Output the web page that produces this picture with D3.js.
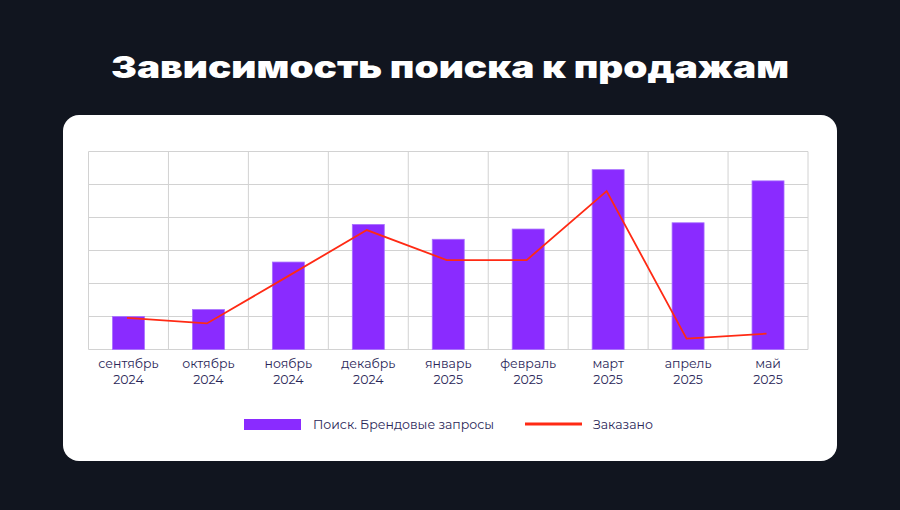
<!DOCTYPE html>
<html><head><meta charset="utf-8">
<script src="https://cdn.jsdelivr.net/npm/d3@7"></script>
<style>
html,body{margin:0;padding:0;background:#11151f;}
svg{display:block;}
</style></head>
<body>
<svg id="c" width="900" height="510"></svg>
<script>
const months = ["сентябрь","октябрь","ноябрь","декабрь","январь","февраль","март","апрель","май"];
const years = ["2024","2024","2024","2024","2025","2025","2025","2025","2025"];
const searchValues = [1.0, 1.21, 2.65, 3.79, 3.34, 3.65, 5.45, 3.84, 5.11];
const orderValues = [0.96, 0.79, 2.2, 3.62, 2.71, 2.71, 4.80, 0.33, 0.48];
const yTicks = [0,1,2,3,4,5,6];
const seriesNames = ["Поиск. Брендовые запросы","Заказано"];
const titleText = "Зависимость поиска к продажам";

const svg = d3.select("#c");
svg.append("rect").attr("width",900).attr("height",510).attr("fill","#11151f");
svg.append("rect").attr("x",63).attr("y",115).attr("width",774).attr("height",346).attr("rx",16).attr("fill","#ffffff");

svg.append("text").attr("x",450).attr("y",78).attr("text-anchor","middle")
  .attr("fill","#ffffff").attr("font-family","Inter, 'DejaVu Sans', sans-serif")
  .attr("font-weight",900).attr("font-size",30)
  .attr("textLength",678).attr("lengthAdjust","spacingAndGlyphs")
  .text(titleText);

const L=88.5, R=808, T=151.5, B=349.5;
const x = d3.scaleBand().domain(d3.range(months.length)).range([L,R]).paddingInner(0).paddingOuter(0);
const y = d3.scaleLinear().domain([0,6]).range([B,T]);

const g = svg.append("g");
g.selectAll(".hg").data(yTicks).enter().append("line")
  .attr("x1",L).attr("x2",R).attr("y1",d=>y(d)).attr("y2",d=>y(d))
  .attr("stroke","#d2d2d2").attr("stroke-width",1);
const vx = d3.range(months.length+1).map(i=> i<months.length ? x(i) : R);
g.selectAll(".vg").data(vx).enter().append("line")
  .attr("x1",d=>d).attr("x2",d=>d).attr("y1",T).attr("y2",B)
  .attr("stroke","#d2d2d2").attr("stroke-width",1);

const bw = x.bandwidth()*0.4;
g.selectAll(".bar").data(searchValues).enter().append("rect")
  .attr("x",(d,i)=>x(i)+x.bandwidth()/2-bw/2)
  .attr("y",d=>y(d)).attr("width",bw).attr("height",d=>B-y(d))
  .attr("fill","#8a2bff").attr("stroke","#a870ff").attr("stroke-width",0.8);

const line = d3.line().x((d,i)=>x(i)+x.bandwidth()/2-1.5).y(d=>y(d));
g.append("path").datum(orderValues).attr("d",line).attr("fill","none")
  .attr("stroke","#ff2a14").attr("stroke-width",1.8).attr("stroke-linejoin","miter");

const lab = g.selectAll(".lab").data(months).enter().append("text")
  .attr("text-anchor","middle").attr("fill","#2a2658")
  .attr("font-family","Montserrat, 'Noto Sans', sans-serif").attr("font-size",12.5);
lab.append("tspan").attr("x",(d,i)=>x(i)+x.bandwidth()/2).attr("y",368).text(d=>d);
lab.append("tspan").attr("x",(d,i)=>x(i)+x.bandwidth()/2).attr("y",384).text((d,i)=>years[i]);

svg.append("rect").attr("x",244).attr("y",419).attr("width",57).attr("height",11).attr("fill","#8a2bff");
svg.append("text").attr("x",313).attr("y",429).attr("fill","#2a2658")
  .attr("font-family","Montserrat, 'Noto Sans', sans-serif").attr("font-size",12.5).text(seriesNames[0]);
svg.append("line").attr("x1",525).attr("x2",582).attr("y1",424).attr("y2",424)
  .attr("stroke","#ff2a14").attr("stroke-width",3);
svg.append("text").attr("x",593).attr("y",429).attr("fill","#2a2658")
  .attr("font-family","Montserrat, 'Noto Sans', sans-serif").attr("font-size",12.5).text(seriesNames[1]);
</script>
</body></html>
